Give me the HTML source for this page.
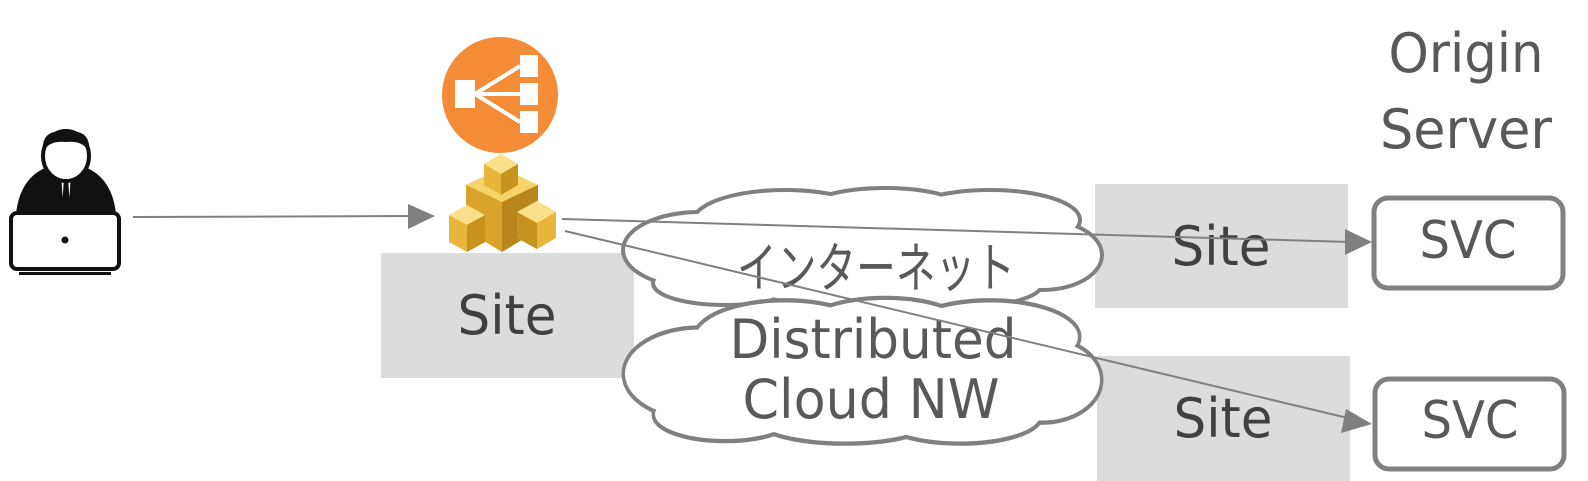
<!DOCTYPE html>
<html><head><meta charset="utf-8"><style>
html,body{margin:0;padding:0;background:#fff;}
svg{display:block;}
text{font-family:"DejaVu Sans","Noto Sans CJK JP",sans-serif;}
</style></head><body>
<svg width="1588" height="481" viewBox="0 0 1588 481" xmlns="http://www.w3.org/2000/svg">
<defs>
<g id="cl">
<ellipse cx="700" cy="250" rx="75" ry="36"/>
<ellipse cx="725" cy="283" rx="70" ry="20"/>
<ellipse cx="785" cy="222" rx="90" ry="30"/>
<ellipse cx="885" cy="213" rx="80" ry="23"/>
<ellipse cx="990" cy="220" rx="88" ry="28"/>
<ellipse cx="1042" cy="255" rx="58" ry="33"/>
<ellipse cx="960" cy="284" rx="80" ry="21"/>
<ellipse cx="845" cy="285" rx="90" ry="20"/>
<ellipse cx="870" cy="250" rx="180" ry="42"/>
</g>
</defs>
<rect x="381" y="253" width="253" height="125" fill="#dcdcdc"/>
<rect x="1095" y="184" width="253" height="124" fill="#dcdcdc"/>
<rect x="1097" y="356" width="253" height="125" fill="#dcdcdc"/>
<g>
<use href="#cl" fill="none" stroke="#808080" stroke-width="8"/>
<use href="#cl" fill="#fff"/>
</g>
<g transform="translate(0,300) scale(1,1.23) translate(0,-190)">
<use href="#cl" fill="none" stroke="#808080" stroke-width="7"/>
<use href="#cl" fill="#fff"/>
</g>
<text x="876" y="287" font-size="54" fill="#595959" text-anchor="middle" textLength="278" lengthAdjust="spacingAndGlyphs">インターネット</text>
<text x="873" y="358" font-size="54" fill="#595959" text-anchor="middle" textLength="287" lengthAdjust="spacingAndGlyphs">Distributed</text>
<text x="871" y="418" font-size="54" fill="#595959" text-anchor="middle" textLength="257" lengthAdjust="spacingAndGlyphs">Cloud NW</text>
<text x="507" y="334" font-size="54" fill="#404040" text-anchor="middle" textLength="99" lengthAdjust="spacingAndGlyphs">Site</text>
<text x="1221" y="265" font-size="54" fill="#404040" text-anchor="middle" textLength="99" lengthAdjust="spacingAndGlyphs">Site</text>
<text x="1223" y="437" font-size="54" fill="#404040" text-anchor="middle" textLength="99" lengthAdjust="spacingAndGlyphs">Site</text>
<rect x="1374" y="198" width="189" height="90" rx="14" fill="#fff" stroke="#808080" stroke-width="5"/>
<rect x="1375" y="379" width="189" height="90" rx="14" fill="#fff" stroke="#808080" stroke-width="5"/>
<text x="1468" y="258" font-size="52" fill="#595959" text-anchor="middle" textLength="97" lengthAdjust="spacingAndGlyphs">SVC</text>
<text x="1470" y="438" font-size="52" fill="#595959" text-anchor="middle" textLength="97" lengthAdjust="spacingAndGlyphs">SVC</text>
<text x="1466" y="72" font-size="54" fill="#595959" text-anchor="middle" textLength="155" lengthAdjust="spacingAndGlyphs">Origin</text>
<text x="1466" y="148" font-size="54" fill="#595959" text-anchor="middle" textLength="172" lengthAdjust="spacingAndGlyphs">Server</text>
<line x1="133" y1="217" x2="412" y2="216" stroke="#808080" stroke-width="2"/>
<polygon points="435,216 408,204 408,229" fill="#808080"/>
<line x1="562" y1="219" x2="1350" y2="242" stroke="#808080" stroke-width="2"/>
<polygon points="1372,242 1345,229 1345,255" fill="#808080"/>
<line x1="565" y1="231" x2="1352" y2="419" stroke="#808080" stroke-width="2"/>
<polygon points="1372,424 1346,409 1341,433" fill="#808080"/>
<g>
<path d="M16,214 Q20,176 50,166 L66,180 L82,166 Q112,176 116,214 Z" fill="#111"/>
<polygon points="61,172 71,172 69,205 63,205" fill="#fff"/>
<polygon points="64,178 68,178 70,206 62,206" fill="#111"/>
<ellipse cx="66" cy="156" rx="23" ry="25" fill="#fff" stroke="#111" stroke-width="4"/>
<path d="M43,154 Q40,128 66,132 Q92,128 89,154 Q85,140 66,142 Q47,140 43,154 Z" fill="#111"/>
<rect x="11" y="213" width="108" height="56" rx="6" fill="#fff" stroke="#111" stroke-width="4"/>
<circle cx="65" cy="240" r="3.5" fill="#111"/>
<rect x="19" y="272" width="92" height="3" fill="#111"/>
</g>
<circle cx="500" cy="95" r="58" fill="#f48b36"/>
<rect x="455" y="80" width="20" height="28" fill="#fff"/>
<rect x="520" y="55" width="18" height="22" fill="#fff"/>
<rect x="520" y="83" width="18" height="22" fill="#fff"/>
<rect x="520" y="111" width="18" height="22" fill="#fff"/>
<g stroke="#fff" stroke-width="4"><line x1="475" y1="94" x2="520" y2="66"/><line x1="475" y1="94" x2="520" y2="94"/><line x1="475" y1="94" x2="520" y2="122"/></g>
<g>
<polygon points="466,185 502,168 538,185 538,230 502,252 466,230" fill="#d9a32a"/>
<polygon points="466,185 502,168 538,185 502,202" fill="#f7d46a"/>
<polygon points="502,202 538,185 538,230 502,252" fill="#b9861b"/>
<polygon points="484,164 501,154 518,164 518,185 501,195 484,185" fill="#e8b63a"/>
<polygon points="484,164 501,154 518,164 501,174" fill="#fbe08a"/>
<polygon points="501,174 518,164 518,185 501,195" fill="#c8921e"/>
<polygon points="449,215 467,205 485,215 485,242 467,252 449,242" fill="#e8b63a"/>
<polygon points="449,215 467,205 485,215 467,225" fill="#fbe08a"/>
<polygon points="467,225 485,215 485,242 467,252" fill="#c8921e"/>
<polygon points="517,212 537,201 556,212 556,238 537,249 517,238" fill="#e8b63a"/>
<polygon points="517,212 537,201 556,212 537,223" fill="#fbe08a"/>
<polygon points="517,212 537,223 537,249 517,238" fill="#c8921e"/>
</g>
</svg>
</body></html>
